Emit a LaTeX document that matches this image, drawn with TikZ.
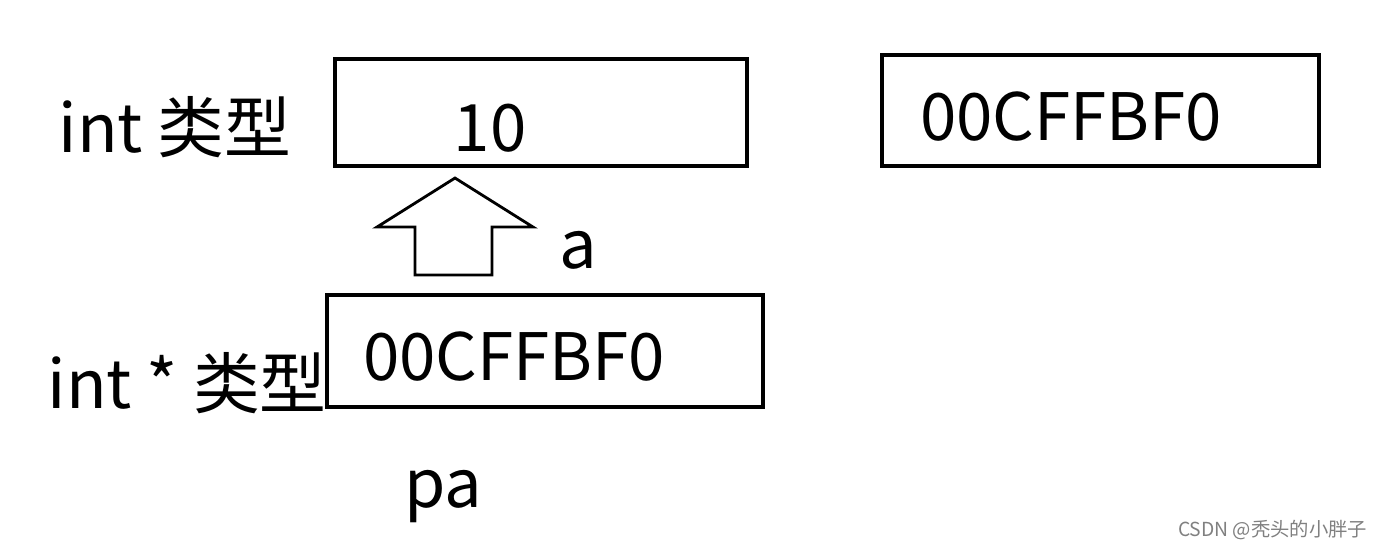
\documentclass[tikz,border=0pt]{standalone}
\usepackage{fontspec}
\setmainfont{Noto Sans CJK SC}
\begin{document}
\begin{tikzpicture}[x=0.01cm,y=-0.01cm,
  box/.style={draw,line width=1pt},
  big/.style={font=\fontsize{18.6}{20}\selectfont,inner sep=0pt},
  lbl/.style={font=\fontsize{19}{20}\selectfont,inner sep=0pt}]
\useasboundingbox (0,0) rectangle (1383,550);
\draw[box] (335,59) rectangle (747,166);
\draw[box] (882,55) rectangle (1319,166);
\draw[box] (327,295) rectangle (763,407);
\node[big,anchor=center] (ten) at (490,128) {10};
\node[big,anchor=center] (hex1) at (1071,117) {00CFFBF0};
\node[big,anchor=center] (hex2) at (514,356) {00CFFBF0};
\node[lbl,anchor=west] (t1) at (58,127) {int 类型};
\node[lbl,anchor=west] (t2) at (47,383) {int * 类型};
\node[lbl,anchor=center] (a) at (578,250) {a};
\node[lbl,anchor=center] (pa) at (443,497) {pa};
\draw[line width=0.8pt,line join=miter] (455,178) -- (533,227) -- (492,227) -- (492,275) -- (415,275) -- (415,227) -- (377,227) -- cycle;
\node[font=\fontsize{5.5}{6}\selectfont,text=gray,anchor=east,inner sep=0pt] (wm) at (1368,530) {CSDN @秃头的小胖子};
\end{tikzpicture}
\end{document}
